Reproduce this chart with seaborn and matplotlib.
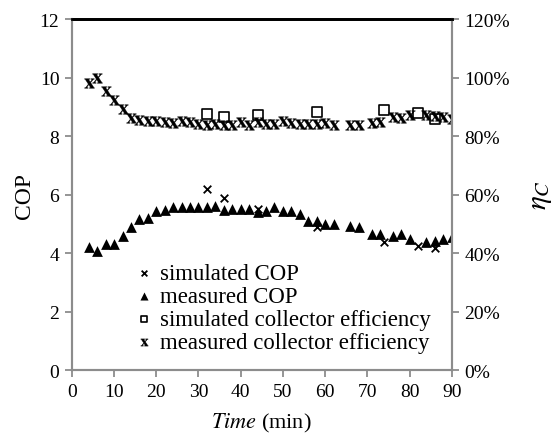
"""
COP and collector efficiency over time, simulated vs measured.
"""
import matplotlib

matplotlib.use("Agg")
import matplotlib.pyplot as plt
import pandas as pd
import seaborn as sns
from matplotlib.ticker import PercentFormatter

# Measured data (every ~2 min)
time_meas = [4, 6, 8, 10, 12, 14, 16, 18, 20, 22, 24, 26, 28, 30, 32, 34,
             36, 38, 40, 42, 44, 46, 48, 50, 52, 54, 56, 58, 60, 62, 66, 68,
             71, 73, 76, 78, 80, 84, 86, 88, 90]
cop_meas = [4.21, 4.06, 4.30, 4.32, 4.58, 4.90, 5.16, 5.21, 5.45, 5.48,
            5.57, 5.57, 5.57, 5.56, 5.57, 5.60, 5.48, 5.50, 5.50, 5.51,
            5.39, 5.45, 5.56, 5.42, 5.42, 5.33, 5.11, 5.08, 4.99, 4.99,
            4.92, 4.90, 4.64, 4.64, 4.58, 4.64, 4.47, 4.38, 4.40, 4.47,
            4.55]
eff_meas = [0.982, 0.999, 0.953, 0.922, 0.894, 0.863, 0.854, 0.851, 0.851,
            0.849, 0.846, 0.850, 0.849, 0.842, 0.839, 0.842, 0.839, 0.839,
            0.848, 0.839, 0.848, 0.842, 0.842, 0.850, 0.846, 0.842, 0.842,
            0.842, 0.846, 0.839, 0.837, 0.839, 0.845, 0.848, 0.865, 0.862,
            0.871, 0.871, 0.869, 0.865, 0.857]

# Simulated data
time_sim = [32, 36, 44, 58, 74, 82, 86]
cop_sim = [6.2, 5.88, 5.51, 4.9, 4.38, 4.24, 4.18]
eff_sim = [0.875, 0.865, 0.871, 0.882, 0.89, 0.879, 0.857]

meas = pd.DataFrame({"time": time_meas, "cop": cop_meas, "eff": eff_meas})
sim = pd.DataFrame({"time": time_sim, "cop": cop_sim, "eff": eff_sim})

sns.set_style("white")
plt.rcParams["font.family"] = ["Liberation Serif", "DejaVu Serif"]
plt.rcParams["mathtext.fontset"] = "stix"
plt.rcParams["text.color"] = "black"
plt.rcParams["axes.labelcolor"] = "black"

fig = plt.figure(figsize=(5.57, 4.35), dpi=100)
ax = fig.add_axes([0.129, 0.147, 0.682, 0.807])
ax2 = ax.twinx()

sns.scatterplot(data=sim, x="time", y="cop", ax=ax, marker="x", color="black",
                s=30, linewidth=1.3, label="simulated COP")
sns.scatterplot(data=meas, x="time", y="cop", ax=ax, marker="^", color="black",
                s=60, linewidth=0, label="measured COP")
sns.scatterplot(data=sim, x="time", y="eff", ax=ax2, marker="s", color="white",
                edgecolor="black", s=45, linewidth=1.2,
                label="simulated collector efficiency")
sns.scatterplot(data=meas, x="time", y="eff", ax=ax2,
                marker=r"$\mathbf{x}$", color="black", edgecolor="black",
                s=50, linewidth=0.25, label="measured collector efficiency")

ax.set_xlim(0, 90)
ax.set_ylim(0, 12)
ax2.set_ylim(0, 1.2)
ax.set_xticks(range(0, 91, 10))
ax.set_yticks(range(0, 13, 2))
ax2.set_yticks([0, 0.2, 0.4, 0.6, 0.8, 1.0, 1.2])
ax2.yaxis.set_major_formatter(PercentFormatter(1.0, decimals=0))

ax.set_xlabel(r"$\mathit{Time}$ (min)", fontsize=16, labelpad=8)
ax.set_ylabel("COP", fontsize=17, labelpad=3)
ax2.set_ylabel(r"$\eta_C$", fontsize=21, labelpad=13)

for a in (ax, ax2):
    for side in ("left", "right", "bottom"):
        a.spines[side].set_color("#8c8c8c")
        a.spines[side].set_linewidth(1.5)
    a.spines["top"].set_color("black")
    a.spines["top"].set_linewidth(2)
    a.tick_params(axis="both", direction="out", length=5, width=1.3,
                  color="#8c8c8c", labelcolor="black", labelsize=14, pad=4)
ax.tick_params(left=True, bottom=True)
ax2.tick_params(right=True)

# combined legend
h1, l1 = ax.get_legend_handles_labels()
h2, l2 = ax2.get_legend_handles_labels()
ax.get_legend().remove()
ax2.get_legend().remove()
ax2.legend(h1 + h2, l1 + l2, loc="upper left", bbox_to_anchor=(0.224, 0.424),
           bbox_transform=fig.transFigure, frameon=False, fontsize=16.4,
           handlelength=0.5, handletextpad=0.45, labelspacing=0.08,
           borderpad=0.1, markerscale=0.75)

fig.savefig("out.png", dpi=100)
